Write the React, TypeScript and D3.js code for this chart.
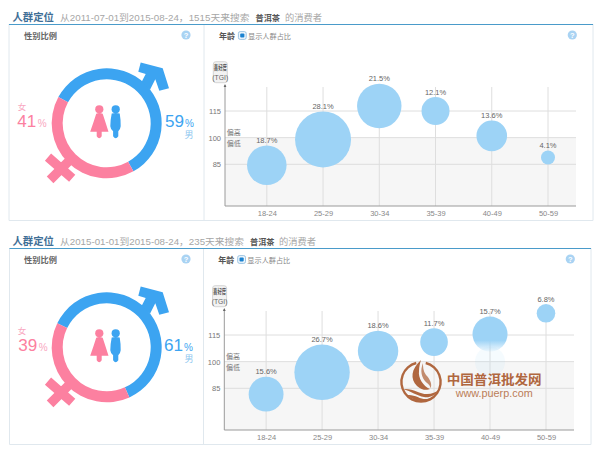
import { useEffect, useRef } from "react";
import * as d3 from "d3";

const AGE_GROUPS = ["18-24", "25-29", "30-34", "35-39", "40-49", "50-59"];
const TGI_TICKS = [85, 100, 115];

// first panel: 2011-07-01 .. 2015-08-24
const SHARE_A = [18.7, 28.1, 21.5, 12.1, 13.6, 4.1];
const TGI_A = [84.5, 99, 117.8, 115, 101, 88.8];
const GENDER_A = [59, 41];

// second panel: 2015-01-01 .. 2015-08-24
const SHARE_B = [15.6, 26.7, 18.6, 11.7, 15.7, 6.8];
const TGI_B = [81.7, 94, 106, 111, 115.5, 127.2];
const GENDER_B = [61, 39];

const COLORS = {
  male: "#3ca4f1",
  maleLight: "#8cc6ef",
  female: "#fc80a0",
  femaleLight: "#f9a8bf",
  bubble: "#9dd3f6",
  rule: "#4a9bca",
  border: "#e0e8ee",
  grid: "#dedede",
  band: "#f6f6f6",
  axis: "#9a9a9a",
  help: "#a9d3f3",
  mark: "#b0673f",
};

const FONT = "'Liberation Sans', 'Noto Sans CJK SC', sans-serif";
const deg = Math.PI / 180;

interface PanelConfig {
  dy: number;
  right: number;
  mid: number;
  left: number;
  lastX: number;
  axisLeft: number;
  axisRight: number;
  rangeText: string;
  rangeEnd: number;
  keywordX: number;
  tailX: number;
  shares: number[];
  tgi: number[];
  gender: number[];
  ringStart: number;
  radius: [number, number];
  maleX: number;
  femaleX: number;
  maleTagX: number;
}

const PANELS: PanelConfig[] = [
  {
    dy: 0, right: 593, mid: 204, left: 9, lastX: 548, axisLeft: 225, axisRight: 576,
    rangeText: "从2011-07-01到2015-08-24，1515天来搜索", rangeEnd: 249.5, keywordX: 255.5, tailX: 285,
    shares: SHARE_A, tgi: TGI_A, gender: GENDER_A, ringStart: -61.5, radius: [7, 28],
    maleX: 165, femaleX: 17.3, maleTagX: 189,
  },
  {
    dy: 224, right: 591, mid: 203.5, left: 9.5, lastX: 546, axisLeft: 224.3, axisRight: 574,
    rangeText: "从2015-01-01到2015-08-24，235天来搜索", rangeEnd: 244, keywordX: 250, tailX: 279,
    shares: SHARE_B, tgi: TGI_B, gender: GENDER_B, ringStart: -64, radius: [9.3, 27.7],
    maleX: 164, femaleX: 18.3, maleTagX: 189,
  },
];

type G = d3.Selection<SVGGElement, unknown, null, undefined>;

function label(
  g: G, x: number, y: number, str: string, size: number, fill: string,
  opts: { bold?: boolean; anchor?: string; length?: number } = {}
) {
  const t = g.append("text")
    .attr("x", x).attr("y", y)
    .attr("font-size", size)
    .attr("font-family", FONT)
    .attr("fill", fill)
    .attr("text-anchor", opts.anchor ?? "start")
    .attr("font-weight", opts.bold ? 700 : 400)
    .text(str);
  if (opts.length) t.attr("textLength", opts.length).attr("lengthAdjust", "spacingAndGlyphs");
  return t;
}

function helpIcon(g: G, x: number, y: number) {
  g.append("circle").attr("cx", x).attr("cy", y).attr("r", 4.6).attr("fill", COLORS.help);
  label(g, x, y + 2.8, "?", 7.5, "#fff", { bold: true, anchor: "middle" });
}

function drawGender(g: G, p: PanelConfig) {
  const cx = 106.7;
  const cy = 123.3;
  const ring = g.append("g").attr("transform", `translate(${cx},${cy})`);

  const pie = d3.pie<number>().sort(null)
    .startAngle(p.ringStart * deg)
    .endAngle((p.ringStart + 360) * deg);
  const arc = d3.arc<d3.PieArcDatum<number>>().innerRadius(44).outerRadius(55);
  ring.selectAll("path.slice")
    .data(pie(p.gender))
    .join("path")
    .attr("class", "slice")
    .attr("d", arc)
    .attr("fill", (_, i) => (i === 0 ? COLORS.male : COLORS.female));

  // male arrow, relative to ring centre
  ring.append("path")
    .attr("fill", COLORS.male)
    .attr("d", "M34,-60.8 L56,-55 L62.3,-35 L52.6,-32.6 L48.6,-44 L43.3,-33.5 L35,-41.6 L39,-49.3 L31.6,-51.6 Z");

  // female cross
  ring.append("path")
    .attr("stroke", COLORS.female).attr("stroke-width", 9.4).attr("fill", "none")
    .attr("d", "M-36,36 L-56.6,56.6 M-58.7,33.8 L-34.5,55");

  // little figures
  const people = g.append("g").attr("transform", `translate(${cx},${cy})`);
  people.append("circle").attr("cx", -7.4).attr("cy", -14).attr("r", 4.1).attr("fill", COLORS.female);
  people.append("path").attr("fill", COLORS.female)
    .attr("d", "M-10.5,-9.5 Q-7.4,-11 -4,-9.5 Q-1.5,-2 1.8,8.5 L-16.5,8.5 Q-12.8,-2 -10.5,-9.5 Z M-10,8 L-5,8 L-5,13 Q-7.5,17 -10,13 Z");
  people.append("circle").attr("cx", 9).attr("cy", -14).attr("r", 4.1).attr("fill", COLORS.male);
  people.append("path").attr("fill", COLORS.male)
    .attr("d", "M5,-9.8 Q9,-11 13,-9.8 Q14.2,-3 14,3 Q13.6,6.5 11.6,8 L11.6,13 Q9,17 6.4,13 L6.4,8 Q4,6.5 3.6,3 Q3.6,-3 5,-9.8 Z");

  const [male, female] = p.gender;
  label(g, 22, 110, "女", 8.5, COLORS.femaleLight, { anchor: "middle" });
  label(g, p.femaleX, 127, String(female), 17, COLORS.female, { length: 19 });
  label(g, p.femaleX + 20.5, 127, "%", 10, COLORS.femaleLight);
  label(g, p.maleX, 127, String(male), 17, COLORS.male, { length: 19 });
  label(g, p.maleX + 20, 127, "%", 10, COLORS.male);
  label(g, p.maleTagX, 138, "男", 9, COLORS.maleLight, { anchor: "middle" });
}

function drawBubbles(g: G, p: PanelConfig, panelIndex: number) {
  const x = d3.scalePoint<string>().domain(AGE_GROUPS).range([p.axisLeft + 41.8, p.lastX]);
  const y = d3.scaleLinear().domain([85, 115]).range([164.3, 111]);
  const r = d3.scaleLinear().domain(d3.extent(p.shares) as [number, number]).range(p.radius);
  const bottom = 206;
  const top = 87;

  g.append("rect")
    .attr("x", p.axisLeft).attr("y", y(100))
    .attr("width", p.axisRight - p.axisLeft).attr("height", bottom - y(100))
    .attr("fill", COLORS.band);

  g.selectAll("line.h-grid")
    .data(TGI_TICKS)
    .join("line")
    .attr("class", "h-grid")
    .attr("x1", p.axisLeft).attr("x2", p.axisRight)
    .attr("y1", (d) => y(d)).attr("y2", (d) => y(d))
    .attr("stroke", COLORS.grid);

  g.selectAll("line.v-grid")
    .data(AGE_GROUPS)
    .join("line")
    .attr("class", "v-grid")
    .attr("x1", (d) => x(d)!).attr("x2", (d) => x(d)!)
    .attr("y1", top).attr("y2", bottom)
    .attr("stroke", COLORS.grid);

  // axes
  const xAxis = g.append("g")
    .attr("transform", `translate(0,${bottom})`)
    .call(d3.axisBottom(x).tickSize(0));
  xAxis.select(".domain").remove();
  xAxis.selectAll("text")
    .attr("fill", "#888").attr("font-size", 7.5).attr("font-family", FONT).attr("dy", 6.5);

  const yAxis = g.append("g")
    .attr("transform", `translate(${p.axisLeft - 4},0)`)
    .call(d3.axisLeft(y).tickValues(TGI_TICKS).tickSize(0));
  yAxis.select(".domain").remove();
  yAxis.selectAll("text")
    .attr("fill", "#777").attr("font-size", 7.5).attr("font-family", FONT).attr("dx", 3);

  g.append("path")
    .attr("fill", "none").attr("stroke", COLORS.axis).attr("stroke-width", 1)
    .attr("d", `M${p.axisLeft},85 V${bottom} H${p.axisRight}`);
  g.append("path")
    .attr("fill", "#666")
    .attr("d", `M${p.axisLeft},84 l-1.4,3 h2.8 Z`);

  // y title box
  g.append("rect")
    .attr("x", p.axisLeft - 11.7).attr("y", 61.7)
    .attr("width", 14).attr("height", 21).attr("rx", 2.5)
    .attr("fill", "#f2f2f2").attr("stroke", "#d5d5d5");
  label(g, p.axisLeft - 4.7, 70.3, "喜好度", 6.5, "#555", { anchor: "middle", bold: true, length: 13 });
  label(g, p.axisLeft - 4.7, 79.5, "(TGI)", 6.8, "#666", { anchor: "middle" });

  label(g, p.axisLeft + 1.8, 135.3, "偏高", 7, "#777");
  label(g, p.axisLeft + 1.8, 146, "偏低", 7, "#777");

  const rows = AGE_GROUPS.map((age, i) => ({ age, share: p.shares[i], tgi: p.tgi[i] }));

  // the 40-49 bubble of the second panel is caught mid-animation
  const fading = panelIndex === 1 ? "40-49" : null;
  if (fading) {
    const gid = "bubble-fade";
    const grad = g.append("linearGradient").attr("id", gid)
      .attr("x1", 0).attr("y1", 0).attr("x2", 0).attr("y2", 1);
    grad.append("stop").attr("offset", "68%").attr("stop-color", COLORS.bubble);
    grad.append("stop").attr("offset", "100%").attr("stop-color", COLORS.bubble).attr("stop-opacity", 0.1);
    g.append("circle")
      .attr("cx", x(fading)!).attr("cy", y(100))
      .attr("r", 15)
      .attr("fill", COLORS.bubble).attr("opacity", 0.1);
  }

  g.selectAll("circle.bubble")
    .data(rows)
    .join("circle")
    .attr("class", "bubble")
    .attr("cx", (d) => x(d.age)!)
    .attr("cy", (d) => y(d.tgi))
    .attr("r", (d) => r(d.share))
    .attr("fill", (d) => (d.age === fading ? "url(#bubble-fade)" : COLORS.bubble));

  g.selectAll("text.share")
    .data(rows)
    .join("text")
    .attr("class", "share")
    .attr("x", (d) => x(d.age)!)
    .attr("y", (d) => y(d.tgi) - r(d.share) - 2.4)
    .attr("text-anchor", "middle")
    .attr("font-size", 7.5)
    .attr("font-family", FONT)
    .attr("fill", "#666")
    .text((d) => `${d.share}%`);
}

function drawPanel(root: G, p: PanelConfig, i: number) {
  const g = root.append("g").attr("transform", `translate(0,${p.dy})`);

  // frame
  g.append("path")
    .attr("fill", "none").attr("stroke", COLORS.border).attr("stroke-width", 1)
    .attr("d", `M${p.left},24 V220.5 H${p.right} V24 M${p.mid},24 V220.5`);
  g.append("line")
    .attr("x1", p.left).attr("x2", p.right)
    .attr("y1", 24.5).attr("y2", 24.5)
    .attr("stroke", COLORS.rule).attr("stroke-width", 1.2);

  // heading
  label(g, 12.5, 21, "人群定位", 10.6, "#3f6f96", { bold: true, length: 41.5 });
  label(g, 60, 20.5, p.rangeText, 9, "#a6a6a6", { length: p.rangeEnd - 60 });
  label(g, p.keywordX, 20.5, "普洱茶", 8, "#555", { bold: true, length: 24.5 });
  label(g, p.tailX, 20.5, "的消费者", 9.2, "#a6a6a6", { length: 37 });

  label(g, 24, 38.5, "性别比例", 8, "#666", { bold: true, length: 33 });
  helpIcon(g, 186, 35);
  label(g, p.axisLeft - 6, 38.5, "年龄", 8, "#555", { bold: true, length: 16 });

  g.append("rect")
    .attr("x", p.axisLeft + 13.4).attr("y", 31.6).attr("width", 7.8).attr("height", 7.8).attr("rx", 1.8)
    .attr("fill", "#eef6fc").attr("stroke", "#86b8dc").attr("stroke-width", 0.8);
  g.append("rect")
    .attr("x", p.axisLeft + 15.2).attr("y", 33.4).attr("width", 4.2).attr("height", 4.2).attr("rx", 1)
    .attr("fill", "#1a82d0");
  label(g, p.axisLeft + 23, 38.5, "显示人群占比", 7.2, "#888", { length: 43 });
  helpIcon(g, p.right - 20.7, 35);

  drawGender(g, p);
  drawBubbles(g, p, i);
}

function drawWatermark(root: G) {
  const g = root.append("g").attr("class", "watermark");
  const logo = g.append("g").attr("transform", "translate(421,382)");
  const ring = d3.arc()({
    innerRadius: 18.4, outerRadius: 20.8, startAngle: 14 * deg, endAngle: 346 * deg,
  });
  logo.append("path").attr("d", ring).attr("fill", COLORS.mark);
  logo.append("path").attr("fill", COLORS.mark)
    .attr("d", "M0,-22 C-10,-13 -11,-3 -4,4 C1,9 7,8 9,7 C2,4 -3,-4 -2,-11 C-2,-15 -1,-19 0,-22 Z");
  logo.append("path").attr("fill", COLORS.mark).attr("opacity", 0.75)
    .attr("d", "M2,-19 C-1,-12 0,-4 6,1 C9,3 10,6 9,7 C12,3 9,-3 5,-7 C2,-11 2,-15 2,-19 Z");
  logo.append("path").attr("fill", COLORS.mark)
    .attr("d", "M-18,7 C-8,6 -2,12 6,12 C11,12 15,10 18,8 C14,14 8,16 3,15 C-4,14 -10,9 -18,7 Z");
  logo.append("path").attr("fill", COLORS.mark)
    .attr("d", "M-14,13 C-6,12 0,18 6,17 C8,17 11,15 13,14 C8,20 -3,22 -14,13 Z");

  label(g, 446.7, 383.5, "中国普洱批发网", 13, COLORS.mark, { bold: true, length: 95 });
  label(g, 455.7, 396.5, "www.puerp.com", 10, "#bb7d58", { length: 77 });
}

export default function App() {
  const svgRef = useRef<SVGSVGElement>(null);

  useEffect(() => {
    if (!svgRef.current) return;
    const svg = d3.select(svgRef.current);
    svg.selectAll("*").remove();
    const root = svg.append("g") as unknown as G;
    PANELS.forEach((p, i) => drawPanel(root, p, i));
    drawWatermark(root);
  }, []);

  return (
    <svg
      ref={svgRef}
      width={600}
      height={453}
      style={{ position: "absolute", left: 0, top: 0, background: "#fff" }}
    />
  );
}
